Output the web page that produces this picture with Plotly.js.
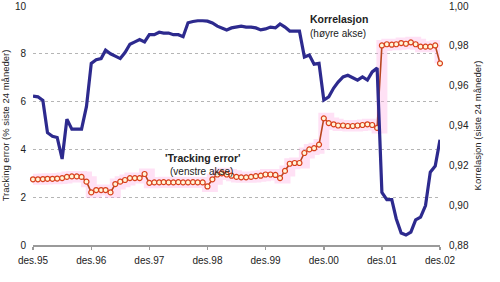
<!DOCTYPE html>
<html>
<head>
<meta charset="utf-8">
<script src="https://cdn.plot.ly/plotly-3.0.1.min.js"></script>
<style>html,body{margin:0;padding:0;background:#fff;}#chart{width:500px;height:282px;}</style>
</head>
<body>
<div id="chart"></div>
<script>
// Monthly observations, des.95 .. des.02 (85 months)
const startYear = 1995, startMonth = 12, nMonths = 85;
const months = [];
for (let i = 0; i < nMonths; i++) {
  const m = (startMonth - 1 + i) % 12 + 1;
  const y = startYear + Math.floor((startMonth - 1 + i) / 12);
  months.push(y + '-' + String(m).padStart(2, '0') + '-01');
}

const tickDates = ['1995-12-01','1996-12-01','1997-12-01','1998-12-01','1999-12-01','2000-12-01','2001-12-01','2002-12-01'];
const tickLabels = ['des.95','des.96','des.97','des.98','des.99','des.00','des.01','des.02'];

// Tracking error (% siste 24 måneder), left axis
const trackingError = [
  2.75, 2.75, 2.76, 2.77, 2.77, 2.78, 2.8, 2.85, 2.87, 2.87, 2.85, 2.65,
  2.2, 2.3, 2.3, 2.3, 2.2, 2.55, 2.65, 2.72, 2.8, 2.8, 2.8, 2.97,
  2.6, 2.62, 2.62, 2.63, 2.62, 2.62, 2.63, 2.62, 2.62, 2.63, 2.62, 2.62,
  2.45, 2.75, 2.95, 3.0, 2.95, 2.9, 2.85, 2.83, 2.83, 2.85, 2.88, 2.9,
  2.95, 2.95, 2.93, 2.8, 3.1, 3.4, 3.43, 3.43, 3.85, 4.0, 4.05, 4.2,
  5.3, 5.1, 5.05, 5.0, 5.0, 4.98, 4.98, 5.0, 5.02, 5.05, 5.02, 4.9,
  8.35, 8.4, 8.38, 8.4, 8.45, 8.42, 8.48, 8.4, 8.3, 8.3, 8.3, 8.35,
  7.6
];

// Korrelasjon (siste 24 måneder), right axis
const correlation = [
  0.9548, 0.9544, 0.9526, 0.9364, 0.9346, 0.934, 0.9232, 0.9432, 0.9382, 0.9382, 0.9382, 0.9496,
  0.9712, 0.973, 0.9736, 0.9778, 0.976, 0.9748, 0.9736, 0.9766, 0.9808, 0.982, 0.9832, 0.982,
  0.9856, 0.9856, 0.9868, 0.9864, 0.9864, 0.9856, 0.9856, 0.9846, 0.9916, 0.9922, 0.9926, 0.9926,
  0.9924, 0.9915, 0.9899, 0.989, 0.988, 0.989, 0.9894, 0.9899, 0.9894, 0.9894, 0.989, 0.988,
  0.9885, 0.9894, 0.989, 0.991, 0.9894, 0.9874, 0.9874, 0.9874, 0.9744, 0.9754, 0.9708, 0.9712,
  0.9528, 0.9544, 0.9588, 0.9618, 0.9644, 0.9652, 0.964, 0.9628, 0.9644, 0.9628, 0.9669, 0.9688,
  0.9064, 0.9028, 0.9028, 0.8932, 0.886, 0.885, 0.8865, 0.8926, 0.894, 0.8998, 0.9166, 0.9196,
  0.9328
];

const glow = {
  x: months, y: trackingError, yaxis: 'y', type: 'scatter', mode: 'lines',
  line: {color: 'rgba(255,170,225,0.35)', width: 11, shape: 'hv'},
  hoverinfo: 'skip', showlegend: false
};
const te = {
  x: months, y: trackingError, yaxis: 'y', type: 'scatter', mode: 'lines+markers',
  line: {color: '#b8461e', width: 1.6},
  marker: {symbol: 'circle', size: 5, color: '#fff6d8', line: {color: '#d8401c', width: 1.2}},
  cliponaxis: false, showlegend: false
};
const corr = {
  x: months, y: correlation, yaxis: 'y2', type: 'scatter', mode: 'lines',
  line: {color: '#2d2a8e', width: 3.2},
  showlegend: false
};

const font = {family: 'Liberation Sans, Arial, sans-serif', size: 10, color: '#222'};

const layout = {
  width: 500, height: 282,
  margin: {l: 33, r: 60, t: 6, b: 37, pad: 0},
  paper_bgcolor: '#fff', plot_bgcolor: '#fff',
  separators: ', ',
  font: font,
  showlegend: false,
  xaxis: {
    type: 'date', range: ['1995-12-01', '2002-12-01'],
    tickvals: tickDates, ticktext: tickLabels,
    showgrid: false, zeroline: false,
    showline: true, linecolor: '#9a9a9a', linewidth: 2,
    ticks: 'outside', ticklen: 3, tickcolor: '#9a9a9a', tickwidth: 1.5,
    tickfont: {size: 10, color: '#222'}, ticklabelstandoff: 2
  },
  yaxis: {
    range: [0, 10], tickvals: [0, 2, 4, 6, 8, 10],
    showgrid: true, gridcolor: '#b5b5b5', griddash: 'dot', gridwidth: 1,
    zeroline: false, showline: false, ticks: '',
    tickfont: {size: 10, color: '#222'}, ticklabelstandoff: 6,
    title: {text: 'Tracking error (% siste 24 måneder)', font: {size: 9.5, color: '#222'}, standoff: 4}
  },
  yaxis2: {
    overlaying: 'y', side: 'right', range: [0.88, 1.00],
    tickvals: [0.88, 0.90, 0.92, 0.94, 0.96, 0.98, 1.00], tickformat: '.2f',
    showgrid: false, zeroline: false, showline: false, ticks: '',
    tickfont: {size: 10, color: '#222'}, ticklabelstandoff: 8,
    title: {text: 'Korrelasjon (siste 24 måneder)', font: {size: 9.5, color: '#222'}, standoff: 6}
  },
  annotations: [
    {xref: 'paper', yref: 'paper', x: (308 - 33) / 407, y: (245 - 19) / 239, xanchor: 'left', yanchor: 'middle',
     text: '<b>Korrelasjon</b>', showarrow: false, font: {size: 10.5, color: '#222'}},
    {xref: 'paper', yref: 'paper', x: (308 - 33) / 407, y: (245 - 33) / 239, xanchor: 'left', yanchor: 'middle',
     text: '(høyre akse)', showarrow: false, font: {size: 10, color: '#222'}},
    {xref: 'paper', yref: 'paper', x: (163 - 33) / 407, y: (245 - 158) / 239, xanchor: 'left', yanchor: 'middle',
     text: "<b>'Tracking error'</b>", showarrow: false, font: {size: 10.5, color: '#222'}},
    {xref: 'paper', yref: 'paper', x: (168 - 33) / 407, y: (245 - 172) / 239, xanchor: 'left', yanchor: 'middle',
     text: '(venstre akse)', showarrow: false, font: {size: 10, color: '#222'}}
  ]
};

Plotly.newPlot('chart', [glow, corr, te], layout, {staticPlot: true, displayModeBar: false});
</script>
</body>
</html>
